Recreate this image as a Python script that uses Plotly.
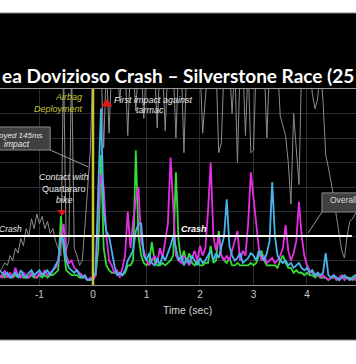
import plotly.graph_objects as go

T0 = -1.75
DT = 0.05

magenta = [
    0.4, 0.3, 0.6, 0.3, 0.5, 0.3, 0.7, 0.4, 0.3, 0.5,
    0.4, 0.3, 0.5, 0.4, 0.3, 0.5, 0.4, 0.6, 0.4, 0.5,
    0.6, 0.7, 0.9, 1.8, 2.5, 1.2, 0.9, 1.0, 0.7, 0.6,
    0.5, 0.4, 0.3, 0.2, 0.3, 0.2, 0.4, 3.0, 4.5, 4.0,
    2.0, 1.0, 0.8, 0.5, 0.6, 0.3, 0.7, 1.2, 3.0, 1.5,
    2.6, 3.5, 4.0, 1.8, 1.4, 1.0, 0.8, 1.0, 1.2, 0.9,
    1.5, 1.1, 1.8, 2.5, 5.2, 3.0, 1.2, 1.0, 0.9, 1.2,
    1.0, 0.8, 1.1, 1.4, 1.0, 1.6, 1.2, 1.5, 3.0, 5.0,
    2.0, 1.4, 2.0, 1.2, 1.0, 1.2, 1.0, 1.4, 1.8, 2.2,
    1.0, 1.4, 1.2, 2.5, 4.6, 3.5, 2.6, 1.5, 1.0, 1.2,
    0.9, 1.0, 1.1, 0.9, 1.0, 1.2, 1.5, 2.45, 1.4, 1.0,
    1.3, 1.8, 3.4, 2.0, 1.2, 0.8, 0.6, 0.5, 0.4, 0.5,
    0.3, 0.4, 0.3, 0.2, 0.3, 0.4, 0.2, 0.3, 0.4, 0.2,
    0.3, 0.2, 0.3, 0.2, 0.3,
]

cyan = [
    0.6, 0.5, 0.4, 0.5, 0.3, 0.4, 0.5, 0.3, 0.6, 0.4,
    0.3, 0.5, 0.6, 0.4, 0.5, 0.6, 0.4, 0.5, 0.6, 0.4,
    0.6, 0.8, 1.0, 2.0, 1.8, 1.0, 0.7, 0.6, 0.5, 0.6,
    0.4, 0.3, 0.4, 0.2, 0.2, 0.3, 0.5, 4.0, 7.2, 3.0,
    2.2, 2.0, 1.4, 0.8, 0.4, 0.5, 0.4, 0.6, 1.0, 1.2,
    1.4, 2.2, 2.5, 2.5, 1.2, 1.0, 1.3, 0.9, 0.8, 1.1,
    0.8, 1.2, 1.0, 1.3, 1.6, 2.0, 1.5, 1.0, 1.2, 0.8,
    1.1, 0.9, 1.2, 1.0, 0.8, 1.1, 0.9, 1.0, 1.2, 1.4,
    1.0, 1.3, 1.1, 1.5, 2.0, 3.5, 1.6, 1.2, 1.0, 1.1,
    1.3, 0.9, 1.0, 1.1, 1.3, 1.2, 1.0, 1.4, 1.2, 1.0,
    1.3, 1.8, 4.2, 2.0, 1.2, 1.0, 0.9, 1.0, 0.8, 0.9,
    0.7, 0.8, 0.9, 0.7, 0.6, 0.7, 0.5, 0.6, 0.4, 0.5,
    0.4, 0.5, 1.3, 0.4, 0.3, 0.4, 0.3, 0.2, 0.3, 0.4,
    0.3, 0.2, 0.3, 0.4, 0.3,
]

green = [
    0.3, 0.4, 0.3, 0.4, 0.3, 0.3, 0.4, 0.3, 0.4, 0.3,
    0.3, 0.3, 0.4, 0.3, 0.3, 0.4, 0.3, 0.4, 0.3, 0.4,
    0.4, 0.5, 0.6, 2.8, 1.5, 0.6, 0.5, 0.4, 0.4, 0.4,
    0.3, 0.3, 0.3, 0.2, 0.2, 0.3, 0.4, 1.5, 5.3, 1.5,
    0.8, 0.6, 0.5, 0.5, 0.5, 0.4, 0.4, 0.5, 0.8, 0.8,
    1.0, 5.5, 2.0, 1.2, 0.9, 0.8, 0.9, 1.75, 1.0, 0.8,
    0.8, 0.9, 0.8, 0.9, 1.0, 1.2, 4.6, 1.8, 1.0, 1.4,
    0.9, 1.3, 0.9, 0.8, 1.0, 0.8, 0.8, 0.9, 0.9, 1.6,
    0.9, 1.0, 2.2, 1.2, 1.0, 0.9, 1.1, 0.8, 0.8, 0.9,
    0.8, 0.8, 0.8, 0.8, 0.9, 0.8, 0.9, 1.2, 1.4, 1.0,
    0.8, 0.8, 0.8, 0.8, 0.7, 1.0, 1.2, 0.9, 0.7, 0.7,
    0.5, 0.6, 0.5, 0.5, 0.4, 0.5, 0.4, 0.4, 0.3, 0.4,
    0.3, 0.3, 0.3, 0.2, 0.3, 0.3, 0.3, 0.2, 0.3, 0.3,
    0.3, 0.3, 0.2, 0.3, 0.3,
]

gray = [
    0.5, 0.7, 0.9, 0.8, 1.2, 1.0, 1.5, 1.3, 1.9, 1.6,
    2.3, 2.0, 2.7, 2.3, 2.9, 2.5, 2.8, 2.3, 2.6, 2.1,
    2.3, 1.8, 1.5, 1.2, 9.0, 1.4, 1.8, 9.0, 1.5, 1.2,
    0.8, 1.0, 2.4, 3.8, 5.5, 9.0, 9.0, 9.0, 9.0, 5.6,
    9.0, 6.2, 9.0, 9.0, 9.0, 7.5, 9.0, 9.0, 6.1, 9.0,
    9.0, 7.1, 9.0, 9.0, 6.8, 9.0, 9.0, 9.0, 9.0, 6.4,
    9.0, 9.0, 6.3, 9.0, 9.0, 9.0, 6.0, 9.0, 9.0, 5.4,
    9.0, 9.0, 9.0, 9.0, 9.0, 9.0, 6.2, 7.3, 9.0, 9.0,
    9.0, 9.0, 5.4, 5.8, 9.0, 9.0, 9.0, 7.0, 9.0, 5.0,
    9.0, 9.0, 6.1, 9.0, 5.4, 5.5, 9.0, 9.0, 9.0, 9.0,
    6.0, 9.0, 9.0, 9.0, 9.0, 6.9, 6.5, 6.1, 5.0, 3.3,
    7.0, 5.5, 4.1, 9.0, 9.0, 9.0, 9.0, 7.8, 7.2, 7.6,
    9.0, 7.5, 5.3, 4.8, 4.2, 3.6, 2.8, 2.0, 1.4, 1.1,
    2.0, 2.6, 2.7, 2.9, 3.0,
]

tick_vals = [-1, 0, 1, 2, 3, 4]
tick_text = ["-1", "0", "1", "2", "3", "4"]
crash_level = 2
airbag_time = 0

def times(vals):
    return [round(T0 + DT * i, 3) for i in range(len(vals))]

fig = go.Figure()
series = [
    (gray, "#8c8c8c", 1.0),
    (green, "#33dd33", 1.8),
    (magenta, "#e62ee6", 1.8),
    (cyan, "#48b4ec", 1.8),
]
for vals, col, w in series:
    fig.add_trace(go.Scatter(x=times(vals), y=vals, mode="lines",
                             line=dict(color=col, width=w), hoverinfo="skip",
                             showlegend=False))

fig.add_trace(go.Scatter(x=[0.26], y=[7.39], mode="markers",
                         marker=dict(symbol="triangle-up", size=10, color="#e01818"),
                         showlegend=False, hoverinfo="skip"))
fig.add_trace(go.Scatter(x=[-0.58], y=[2.98], mode="markers",
                         marker=dict(symbol="triangle-down", size=8, color="#e01818"),
                         showlegend=False, hoverinfo="skip"))

shapes = [
    dict(type="rect", xref="paper", yref="paper", x0=-0.05, x1=1.05, y0=1.3878, y1=1.6,
         fillcolor="white", line=dict(width=0), layer="below"),
    dict(type="rect", xref="paper", yref="paper", x0=-0.05, x1=1.05, y0=-0.5, y1=-0.2806,
         fillcolor="white", line=dict(width=0), layer="below"),
    dict(type="line", xref="paper", yref="paper", x0=-0.05, x1=1.05, y0=1.3878, y1=1.3878,
         line=dict(color="#888888", width=1)),
    dict(type="line", xref="paper", yref="paper", x0=-0.05, x1=1.05, y0=-0.2806, y1=-0.2806,
         line=dict(color="#888888", width=1)),
    dict(type="line", xref="x", yref="y", x0=-1.8, x1=4.84, y0=crash_level, y1=crash_level,
         line=dict(color="white", width=2)),
    dict(type="line", xref="x", yref="y", x0=airbag_time, x1=airbag_time, y0=0, y1=8,
         line=dict(color="#c8c43a", width=2.5)),
    dict(type="rect", xref="x", yref="y", x0=-1.9, x1=-0.80, y0=5.51, y1=6.45,
         fillcolor="#404040", line=dict(color="#8a8a8a", width=1)),
    dict(type="line", xref="x", yref="y", x0=-0.80, x1=-0.09, y0=5.51, y1=4.82,
         line=dict(color="#9a9a9a", width=1)),
    dict(type="rect", xref="x", yref="y", x0=4.28, x1=5.1, y0=2.98, y1=3.76,
         fillcolor="#404040", line=dict(color="#8a8a8a", width=1)),
    dict(type="line", xref="x", yref="y", x0=4.28, x1=4.02, y0=2.98, y1=2.12,
         line=dict(color="#9a9a9a", width=1)),
]

txt = "#e8e8e8"
ann = [
    dict(text="<b>ea Dovizioso Crash – Silverstone Race (25</b>", xref="paper", yref="paper",
         x=0.5, y=1.071, xanchor="center", yanchor="middle", showarrow=False,
         font=dict(family="Lato", size=19, color="white")),
    dict(text="<i>Airbag</i>", x=-0.17, y=7.67, xanchor="right", yanchor="middle",
         showarrow=False, font=dict(family="Arial", size=9, color="#c8c43a")),
    dict(text="<i>Deployment</i>", x=-0.15, y=7.18, xanchor="right", yanchor="middle",
         showarrow=False, font=dict(family="Arial", size=9, color="#c8c43a")),
    dict(text="<i>First impact against</i>", x=1.14, y=7.55, xanchor="center", yanchor="middle",
         showarrow=False, font=dict(family="Arial", size=9, color=txt)),
    dict(text="<i>tarmac</i>", x=1.07, y=7.14, xanchor="center", yanchor="middle",
         showarrow=False, font=dict(family="Arial", size=9, color=txt)),
    dict(text="<i>Contact with</i>", x=-0.54, y=4.4, xanchor="center", yanchor="middle",
         showarrow=False, font=dict(family="Arial", size=9, color=txt)),
    dict(text="Quartararo", x=-0.54, y=3.92, xanchor="center", yanchor="middle",
         showarrow=False, font=dict(family="Arial", size=9, color=txt)),
    dict(text="<i>bike</i>", x=-0.54, y=3.47, xanchor="center", yanchor="middle",
         showarrow=False, font=dict(family="Arial", size=9, color=txt)),
    dict(text="<i>oyed 145ms</i>", x=-0.90, y=6.12, xanchor="right", yanchor="middle",
         showarrow=False, font=dict(family="Arial", size=8, color=txt)),
    dict(text="<i>impact</i>", x=-1.42, y=5.76, xanchor="center", yanchor="middle",
         showarrow=False, font=dict(family="Arial", size=8.5, color=txt)),
    dict(text="<i>Crash</i>", x=-1.29, y=2.29, xanchor="right", yanchor="middle",
         showarrow=False, font=dict(family="Arial", size=8.5, color=txt)),
    dict(text="<b><i>Crash</i></b>", x=1.89, y=2.29, xanchor="center", yanchor="middle",
         showarrow=False, font=dict(family="Arial", size=9, color="white")),
    dict(text="Overall", x=4.40, y=3.45, xanchor="left", yanchor="middle",
         showarrow=False, font=dict(family="Arial", size=8.5, color="#dddddd")),
    dict(text="Time (sec)", xref="x", yref="paper", x=1.77, y=-0.128, xanchor="center",
         yanchor="middle", showarrow=False, font=dict(family="Arial", size=10.5, color="#d0d0d0")),
]

fig.update_layout(
    width=356, height=364,
    margin=dict(l=0, r=0, t=89, b=79, pad=0),
    paper_bgcolor="black", plot_bgcolor="black",
    shapes=shapes, annotations=ann, showlegend=False,
    xaxis=dict(range=[-1.738, 4.916], tickvals=tick_vals, ticktext=tick_text,
               showgrid=True, gridcolor="#2e2e2e", gridwidth=1, zeroline=False,
               showline=True, mirror=True, linecolor="#9a9a9a", linewidth=1,
               ticks="", tickfont=dict(family="Arial", size=10, color="#cccccc")),
    yaxis=dict(range=[0, 8], dtick=1, showgrid=True, gridcolor="#2e2e2e", gridwidth=1,
               zeroline=False, showticklabels=False, showline=False),
)

fig.write_html(
    "out.html",
    config={"displayModeBar": False},
    post_script=("document.documentElement.style.overflow='hidden';"
                 "document.body.style.overflow='hidden';"
                 "document.body.style.margin='0';"
                 "document.body.style.background='black';"
                 "document.documentElement.style.background='black';"),
)
